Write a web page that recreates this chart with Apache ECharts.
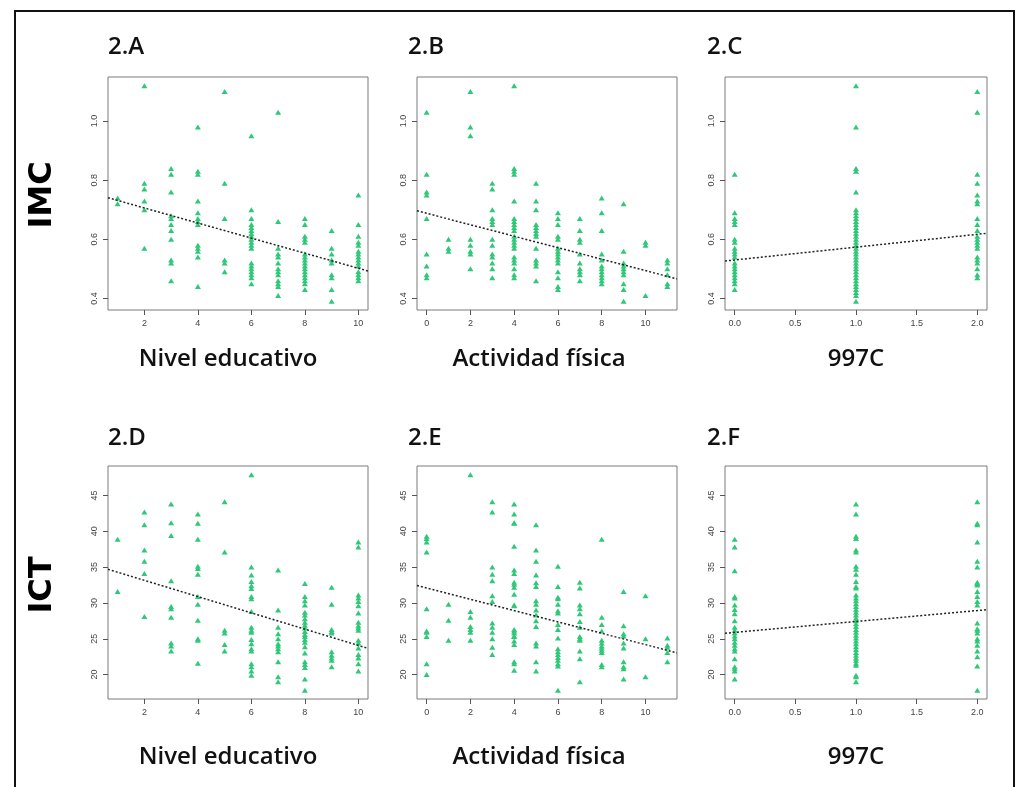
<!DOCTYPE html>
<html>
<head>
<meta charset="utf-8">
<script src="https://cdn.jsdelivr.net/npm/echarts@6/dist/echarts.min.js"></script>
<style>
  html, body { margin: 0; padding: 0; background: #fff; }
  #chart { width: 1018px; height: 787px; }
</style>
</head>
<body>
<div id="chart"></div>
<script>
// x categories
const eduLevels = [1, 2, 3, 4, 5, 6, 7, 8, 9, 10];
const actLevels = [0, 1, 2, 3, 4, 5, 6, 7, 8, 9, 10, 11];
const levels997 = [0, 1, 2];

// IMC values grouped by x level
const imcByEdu = [
  [0.74, 0.72],
  [1.12, 0.79, 0.77, 0.73, 0.70, 0.57],
  [0.84, 0.82, 0.76, 0.68, 0.67, 0.65, 0.63, 0.60, 0.53, 0.52, 0.46],
  [0.98, 0.83, 0.82, 0.73, 0.69, 0.67, 0.66, 0.65, 0.58, 0.57, 0.56, 0.54, 0.44],
  [1.10, 0.79, 0.67, 0.53, 0.52, 0.49],
  [0.95, 0.70, 0.67, 0.65, 0.64, 0.63, 0.62, 0.61, 0.60, 0.59, 0.58, 0.57, 0.52, 0.51, 0.50, 0.49, 0.48, 0.47, 0.45],
  [1.03, 0.66, 0.57, 0.55, 0.54, 0.52, 0.50, 0.49, 0.48, 0.46, 0.45, 0.44, 0.41],
  [0.67, 0.65, 0.61, 0.60, 0.59, 0.55, 0.54, 0.53, 0.52, 0.51, 0.50, 0.49, 0.48, 0.47, 0.46, 0.45, 0.43],
  [0.63, 0.57, 0.55, 0.53, 0.52, 0.48, 0.47, 0.43, 0.39],
  [0.75, 0.65, 0.61, 0.59, 0.58, 0.56, 0.55, 0.54, 0.53, 0.52, 0.51, 0.49, 0.48, 0.47, 0.46]
];
const imcByAct = [
  [1.03, 0.82, 0.76, 0.75, 0.67, 0.55, 0.51, 0.48, 0.47],
  [0.60, 0.57, 0.56],
  [1.10, 0.98, 0.95, 0.60, 0.58, 0.56, 0.55, 0.50],
  [0.79, 0.77, 0.70, 0.67, 0.66, 0.65, 0.60, 0.58, 0.55, 0.54, 0.52, 0.50, 0.47],
  [1.12, 0.84, 0.83, 0.82, 0.73, 0.67, 0.66, 0.65, 0.64, 0.63, 0.61, 0.60, 0.59, 0.58, 0.57, 0.54, 0.53, 0.52, 0.50, 0.48, 0.47],
  [0.79, 0.73, 0.70, 0.65, 0.64, 0.63, 0.62, 0.61, 0.57, 0.53, 0.52, 0.51, 0.46],
  [0.69, 0.67, 0.65, 0.61, 0.60, 0.57, 0.56, 0.55, 0.54, 0.53, 0.52, 0.49, 0.47, 0.44, 0.43],
  [0.67, 0.63, 0.60, 0.59, 0.55, 0.52, 0.50, 0.49, 0.48, 0.46],
  [0.74, 0.69, 0.63, 0.55, 0.53, 0.51, 0.50, 0.49, 0.48, 0.47, 0.46, 0.45],
  [0.72, 0.56, 0.52, 0.51, 0.50, 0.49, 0.48, 0.45, 0.43, 0.39],
  [0.59, 0.58, 0.41],
  [0.53, 0.52, 0.50, 0.48, 0.45, 0.44]
];
const imcBy997 = [
  [0.82, 0.69, 0.67, 0.66, 0.65, 0.60, 0.59, 0.57, 0.56, 0.55, 0.54, 0.52, 0.51, 0.50, 0.49, 0.48, 0.47, 0.46, 0.45, 0.43],
  [1.12, 0.98, 0.84, 0.83, 0.76, 0.70, 0.69, 0.68, 0.67, 0.66, 0.65, 0.64, 0.63, 0.62, 0.61, 0.60, 0.59, 0.58, 0.57, 0.56, 0.55, 0.54, 0.53, 0.52, 0.51, 0.50, 0.49, 0.48, 0.47, 0.46, 0.45, 0.44, 0.43, 0.42, 0.41, 0.39],
  [1.10, 1.03, 0.82, 0.79, 0.75, 0.73, 0.72, 0.67, 0.65, 0.63, 0.61, 0.60, 0.59, 0.58, 0.57, 0.54, 0.53, 0.52, 0.50, 0.48, 0.47]
];

// ICT values grouped by x level
const ictByEdu = [
  [38.9, 31.6],
  [42.7, 40.9, 37.4, 35.8, 34.1, 28.1],
  [43.8, 41.2, 39.4, 33.1, 29.5, 29.2, 28.0, 24.4, 24.0, 23.3],
  [42.4, 41.1, 38.9, 35.1, 34.8, 34.0, 30.9, 29.8, 27.6, 25.0, 24.8, 21.6],
  [44.1, 37.1, 26.2, 25.8, 24.2, 23.3],
  [47.9, 35.0, 33.9, 33.0, 32.4, 32.0, 30.9, 30.6, 28.8, 26.6, 26.2, 25.9, 24.9, 24.3, 23.6, 23.3, 21.5, 21.1, 20.5, 19.9],
  [34.6, 29.0, 26.6, 25.7, 25.0, 24.3, 24.0, 23.6, 23.2, 21.8, 19.7, 19.0],
  [32.7, 30.9, 30.3, 29.7, 28.7, 28.3, 27.8, 27.3, 26.9, 26.5, 26.0, 25.6, 25.3, 24.9, 24.5, 23.9, 23.0, 21.8, 21.4, 21.0, 19.4, 17.8],
  [32.2, 29.8, 26.3, 26.0, 25.8, 23.2, 22.7, 22.3, 22.0, 21.1],
  [38.5, 37.8, 31.1, 30.7, 30.2, 29.6, 28.6, 27.3, 26.8, 26.5, 26.2, 24.8, 24.4, 23.7, 22.8, 22.3, 21.5, 20.5]
];
const ictByAct = [
  [39.3, 39.0, 38.5, 37.1, 29.2, 26.1, 25.9, 25.3, 21.5, 20.0],
  [29.8, 27.6, 24.8],
  [47.9, 28.8, 28.0, 26.7, 26.3, 25.9, 24.8],
  [44.1, 42.7, 35.0, 34.0, 33.1, 31.0, 30.2, 27.2, 26.6, 25.9, 25.0, 23.8, 22.8],
  [43.8, 42.4, 41.2, 41.1, 37.9, 34.6, 34.1, 32.9, 32.6, 32.2, 31.2, 29.7, 29.6, 26.3, 26.1, 25.8, 25.4, 25.3, 24.7, 24.2, 21.8, 21.5, 20.6],
  [40.9, 37.4, 35.8, 33.9, 32.8, 32.3, 30.3, 29.8, 29.0, 28.3, 27.5, 26.7, 24.4, 24.0, 21.8, 20.5],
  [35.1, 32.3, 30.8, 30.6, 29.8, 28.9, 28.6, 27.0, 26.3, 25.1, 23.6, 23.2, 22.8, 22.4, 22.0, 21.5, 21.2, 17.8],
  [32.9, 32.1, 29.7, 29.2, 28.5, 27.4, 26.6, 25.3, 25.0, 24.8, 23.3, 22.2, 19.0],
  [38.9, 28.0, 27.0, 26.1, 24.8, 24.4, 24.0, 23.7, 23.4, 23.1, 21.4, 21.1],
  [31.6, 26.8, 25.7, 25.4, 24.4, 23.7, 21.8, 21.1, 20.8, 19.4],
  [31.0, 25.0, 19.7],
  [25.1, 24.1, 23.8, 23.1, 21.8]
];
const ictBy997 = [
  [38.9, 37.8, 34.5, 30.9, 30.7, 29.7, 29.1, 28.5, 27.5, 26.6, 26.2, 25.8, 25.4, 25.0, 24.5, 24.1, 23.6, 23.3, 22.2, 21.1, 20.8, 20.5, 19.4],
  [43.8, 42.4, 39.3, 39.0, 37.4, 37.1, 35.1, 34.7, 34.0, 33.0, 32.3, 32.1, 31.1, 30.7, 30.3, 29.9, 29.5, 29.1, 28.7, 28.3, 27.9, 27.5, 27.1, 26.7, 26.3, 25.9, 25.5, 25.1, 24.7, 24.3, 23.9, 23.5, 23.1, 22.7, 22.3, 22.0, 21.6, 21.3, 19.9, 19.7, 19.0],
  [44.1, 41.1, 40.9, 38.5, 35.8, 35.0, 32.9, 32.7, 32.5, 31.6, 30.9, 30.2, 29.7, 27.2, 26.4, 26.2, 25.8, 25.0, 24.7, 24.1, 23.3, 22.5, 21.2, 17.8]
];

// fitted lines (intercept, slope) for 2.A .. 2.F
const fitIntercepts = [0.757, 0.688, 0.530, 35.42, 32.09, 25.89];
const fitSlopes = [-0.0255, -0.0194, 0.0435, -1.135, -0.791, 1.523];

// tick labels
const panelTitles = ['2.A', '2.B', '2.C', '2.D', '2.E', '2.F'];
const xNames = ['Nivel educativo', 'Actividad física', '997C'];
const rowNames = ['IMC', 'ICT'];
const xTicksEdu = [2, 4, 6, 8, 10];
const xTicksAct = [0, 2, 4, 6, 8, 10];
const xTicks997 = [0, 0.5, 1, 1.5, 2];
const yTicksImc = [0.4, 0.6, 0.8, 1.0];
const yTicksIct = [20, 25, 30, 35, 40, 45];

// R-style axis range: data range padded 4% each side
function rRange(vals) {
  const lo = Math.min(...vals), hi = Math.max(...vals);
  const pad = (hi - lo) * 0.04;
  return [lo - pad, hi + pad];
}
function toPoints(levels, groups) {
  const out = [];
  levels.forEach((x, i) => groups[i].forEach(y => out.push([x, y])));
  return out;
}

const imcRange = rRange([].concat(...imcByEdu));
const ictRange = rRange([].concat(...ictByEdu, ...ictByAct, ...ictBy997));

const colLeft = [108, 417, 725];
const colWidth = [260, 260, 262];
const rowTop = [77, 466];
const rowHeight = 233;
const titleX = [108, 408, 707];
const titleY = [49, 440];
const nameX = [228, 539, 856];
const nameY = [359, 757];

const xDefs = [
  { levels: eduLevels, ticks: xTicksEdu, fmt: v => String(v) },
  { levels: actLevels, ticks: xTicksAct, fmt: v => String(v) },
  { levels: levels997, ticks: xTicks997, fmt: v => v.toFixed(1) }
];
const yDefs = [
  { range: imcRange, ticks: yTicksImc, fmt: v => v.toFixed(1), groups: [imcByEdu, imcByAct, imcBy997] },
  { range: ictRange, ticks: yTicksIct, fmt: v => String(v), groups: [ictByEdu, ictByAct, ictBy997] }
];

const grids = [], xAxes = [], yAxes = [], series = [], graphics = [];
const tickColor = '#555';

for (let r = 0; r < 2; r++) {
  for (let c = 0; c < 3; c++) {
    const i = r * 3 + c;
    const xd = xDefs[c], yd = yDefs[r];
    const xr = rRange(xd.levels);
    grids.push({
      left: colLeft[c], top: rowTop[r], width: colWidth[c], height: rowHeight,
      show: true, borderColor: '#7a7a7a', borderWidth: 1, backgroundColor: 'transparent'
    });
    xAxes.push({
      type: 'value', gridIndex: i, min: xr[0], max: xr[1], position: 'bottom',
      axisLine: { show: false, onZero: false },
      splitLine: { show: false },
      axisTick: { show: true, inside: false, length: 5, customValues: xd.ticks, lineStyle: { color: tickColor } },
      axisLabel: { customValues: xd.ticks, formatter: xd.fmt, color: '#444', fontSize: 9, fontFamily: 'Liberation Sans', margin: 9 }
    });
    yAxes.push({
      type: 'value', gridIndex: i, min: yd.range[0], max: yd.range[1], position: 'left',
      axisLine: { show: false, onZero: false },
      splitLine: { show: false },
      axisTick: { show: true, inside: false, length: 5, customValues: yd.ticks, lineStyle: { color: tickColor } },
      axisLabel: { customValues: yd.ticks, formatter: yd.fmt, rotate: 90, color: '#444', fontSize: 9, fontFamily: 'Liberation Sans', margin: 9 }
    });
    series.push({
      type: 'scatter', xAxisIndex: i, yAxisIndex: i,
      data: toPoints(xd.levels, yd.groups[c]),
      symbol: 'triangle', symbolSize: [6, 5],
      itemStyle: { color: '#2fc878', opacity: 1 },
      silent: true
    });
    const a = fitIntercepts[i], b = fitSlopes[i];
    series.push({
      type: 'line', xAxisIndex: i, yAxisIndex: i,
      data: [[xr[0], a + b * xr[0]], [xr[1], a + b * xr[1]]],
      symbol: 'none', silent: true, z: 5,
      lineStyle: { color: '#222', width: 1.5, type: [2, 2] }
    });
    graphics.push({
      type: 'text', left: titleX[c], top: titleY[r] - 14,
      style: { text: panelTitles[i], font: '600 24px "Open Sans"', fill: '#111' }
    });
    graphics.push({
      type: 'text', x: nameX[c], y: nameY[r],
      style: { text: xNames[c], font: '600 24px "Open Sans"', fill: '#111', align: 'center', verticalAlign: 'middle' }
    });
  }
  graphics.push({
    type: 'text', x: 43, y: r === 0 ? 195 : 585, rotation: Math.PI / 2,
    style: { text: rowNames[r], font: 'bold 32px "DejaVu Sans"', fill: '#000', align: 'center', verticalAlign: 'middle' }
  });
}

// outer frame
graphics.push({
  type: 'rect', shape: { x: 15, y: 11, width: 999, height: 800 },
  style: { fill: 'none', stroke: '#111', lineWidth: 2 }
});

const chart = echarts.init(document.getElementById('chart'), null, { renderer: 'canvas' });
chart.setOption({
  animation: false,
  backgroundColor: '#fff',
  grid: grids,
  xAxis: xAxes,
  yAxis: yAxes,
  series: series,
  graphic: graphics
});
</script>
</body>
</html>
